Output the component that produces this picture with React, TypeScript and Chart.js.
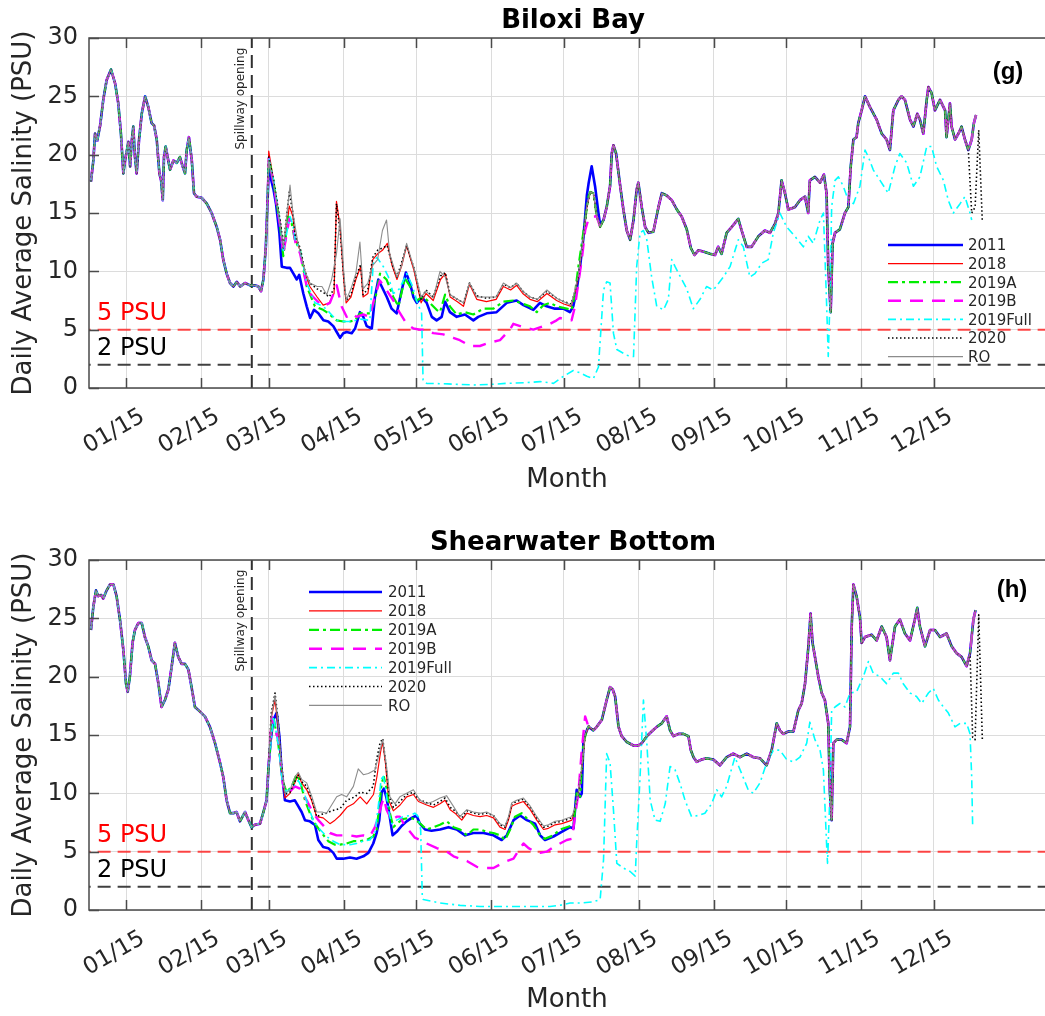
import React, { useEffect, useRef } from 'react';
import { Chart, registerables } from 'chart.js';
Chart.register(...registerables);

// ---------------- DATA ----------------
const tickDays = [15, 46, 74, 105, 135, 166, 196, 227, 258, 288, 319, 349];
const tickLabels = ['01/15', '02/15', '03/15', '04/15', '05/15', '06/15', '07/15', '08/15', '09/15', '10/15', '11/15', '12/15'];
const yTickValues = [0, 5, 10, 15, 20, 25, 30];
const seriesNames = ['2011', '2018', '2019A', '2019B', '2019Full', '2020', 'RO'];
const spillwayDay = 67;
const thresholdValues = [5, 2];
const thresholdLabels = ['5 PSU', '2 PSU'];

// ---- Biloxi Bay (g) ----
const topEarly = [[0.5,17.7],[1.5,19.5],[2.2,21.8],[3.1,21.2],[4.3,22.5],[5.6,24.7],[7,26.4],[8.8,27.3],[10.5,26.1],[11.8,24.4],[12.9,21.8],[13.9,18.4],[14.6,19.5],[15.3,20.3],[16,21.1],[16.7,19],[17.3,21],[18,22.4],[18.7,19.8],[19.4,18.4],[20.4,21.3],[21.5,23.5],[22.9,25],[24.2,24.1],[25.6,22.7],[26.6,22.5],[27.7,21.3],[28.8,18.4],[29.5,17.8],[30.2,16.1],[30.7,19.8],[31.4,20.7],[32.2,19.8],[33.2,18.7],[34.6,19.5],[36,19.3],[37.3,19.8],[38.4,19],[39.4,18.4],[40.1,20.4],[41,21.5],[42.2,19.5],[43.1,16.7],[44.2,16.4],[46.3,16.3],[48.4,15.8],[50.4,15],[52.5,13.8],[53.9,12.7],[55.2,11],[56.6,9.8],[58,9],[59.4,8.7],[60.8,9.1],[62.2,8.7],[64.2,9],[66.3,8.8],[68.3,8.8],[69.7,8.7],[70.8,8.3],[71.8,9.3],[72.8,12.1],[73.5,16]];
const top2011 = [[74,18.7],[76,17],[77,15.8],[78.4,13.3],[79.4,10.4],[81.4,10.3],[82.8,10.3],[84.2,9.8],[85.6,9.3],[86.6,9.7],[88.3,8.1],[89.7,7],[91.1,6],[92.7,6.7],[94.5,6.4],[96.6,5.8],[98.6,5.7],[100.7,5.3],[102.1,4.8],[103.5,4.3],[104.8,4.7],[106.2,4.8],[108.3,4.7],[109.7,5.1],[111.7,6.5],[113.1,6.1],[114.5,5.3],[116.6,5.1],[117.9,7.8],[119.3,9.3],[120.7,8.7],[122.8,7.8],[124.8,6.8],[126.9,6.4],[129,8.4],[130.7,9.9],[132.4,9],[133.8,7.8],[135.2,7.3],[137.2,7.8],[139.3,7.3],[141.4,6.1],[143.4,5.8],[145.5,6.1],[146.9,7.4],[148.9,6.5],[151.7,6.1],[155.1,6.3],[158.6,5.8],[160.6,6.1],[164.1,6.4],[168.2,6.5],[172.4,7.3],[176.5,7.5],[179.3,7.1],[183.4,6.7],[186.1,7.3],[188.9,7],[192.3,6.8],[195.8,6.8],[198.5,6.5],[199.9,7],[201.3,8.4],[202.7,10.4],[204,12.7],[204.8,14.7],[205.5,16.5],[206.2,17.5],[207.5,19],[208.9,17.3],[210.3,15],[211,14]];
const top2018 = [[74,20.3],[76,17.8],[77,16.1],[79,13.8],[80,11.8],[81,13],[82.5,15.6],[84,14.7],[85,12.7],[87,11.8],[89,9.8],[91,8.7],[94,7.8],[96.5,7.1],[99,7.3],[101,8.1],[102,16],[103.5,13.8],[105,9.3],[106,7.3],[108,7.8],[110,9.3],[112,10.4],[113,7.8],[115,8.1],[117,11],[119,11.5],[121,11.8],[123,12.4],[125,10.5],[127,9.3],[129,10.5],[131,12.2],[134,10.1],[137,7.3],[139,8.1],[142,7.5],[145,9.3],[147,9.8],[149,7.8],[152,7.4],[154.5,7],[157,8.9],[160,7.6],[164,7.4],[168,7.6],[171,8.7],[174,8.4],[176.5,8.8],[179,8.1],[182,7.6],[185,7.4],[189,8.1],[193,7.5],[196,7.2],[199,7],[200.5,8.1],[202,9.5],[204,12.7],[205.5,15.5]];
const top2019A = [[74,19.7],[75.9,17.8],[78.6,14.1],[80,11.3],[82.1,14.7],[83.5,14.1],[84.8,12.7],[86.9,11.8],[89.7,8.7],[93.1,7],[96.5,6.7],[98.6,6.4],[102.1,5.8],[104.8,5.7],[107.6,5.7],[109.6,5.8],[111.7,6.4],[115.8,6.4],[117.9,7.5],[120,9.8],[122.7,9.3],[125.5,7.8],[127.6,7],[130.3,9.4],[132.4,8.7],[135.1,7.5],[137.9,7.8],[140.6,7.3],[143.4,6.7],[144.8,6.5],[146.9,8],[148.9,7],[151.7,6.3],[155.1,6.5],[158.6,6.3],[162.7,6.8],[166.9,6.8],[171,7.4],[175.1,7.5],[177.9,7.3],[182,7],[184.8,6.5],[187.5,7.1],[190.3,7.3],[193,7],[197.2,6.8],[199.2,6.7],[200.6,8.1],[202,10.4],[203.4,12.4],[204.8,14.4],[206.2,16.4]];
const top2019B = [[74,19.7],[76,17.5],[78.6,14],[80,11.5],[82.5,14.5],[84,13.8],[85,12.5],[87,11.5],[89.7,8.7],[91,8.1],[93.8,7.5],[96.5,7],[99.3,7.3],[102.1,8.8],[104.1,7],[106.2,6.1],[108.3,6.4],[110.3,6.1],[113.1,6.3],[115.8,6.1],[118,8],[120,9.2],[122.7,8.4],[125.5,7.5],[128,6.5],[131,5.5],[133.8,5.1],[136.5,5],[139.3,5],[142,4.7],[146.2,4.6],[150.3,4.3],[153,4.1],[157.2,3.6],[161.3,3.6],[165.5,3.9],[169.6,4.1],[173.7,5],[175.1,5.5],[179.3,5.2],[183.4,5],[187.5,5.3],[190.3,5.5],[193,5.8],[194.4,6],[197.9,5.8],[199.2,5.8],[200.6,7],[202,9],[203.4,11],[204.8,13.5],[206.2,14.5],[208.2,14.7]];
const top2019Full = [[74,19.7],[76,17.8],[78.6,14.3],[80,11.8],[82.8,14.7],[84,14],[85,12.7],[87,11.8],[89.7,9],[93.1,7.3],[96.5,7],[99,6.5],[102.1,5.8],[105,5.7],[107.6,5.7],[110,5.8],[112,5.9],[115.8,5.8],[117.2,10.7],[118.7,11.2],[121.4,10.4],[123.5,9.5],[125.5,8.1],[128,8.5],[131,9.8],[133.5,8.7],[135.1,7.5],[137.2,6.4],[137.8,0.6],[139.3,0.4],[148,0.35],[158.6,0.26],[165,0.3],[172.4,0.4],[180,0.45],[186.2,0.55],[191.7,0.4],[195.8,1],[199.9,1.5],[202.7,1.3],[205.5,1],[208.2,0.8],[210.3,1.8],[212.4,8.4],[213.7,9.1],[215.1,9],[216.5,4.7],[217.9,3.3],[222,2.8],[224.8,2.7],[226.1,10.4],[227.5,13.3],[228.9,13.5],[230.3,12.7],[232.3,9.5],[234.4,7],[237.2,6.7],[239.2,7.6],[240.6,11],[242,10.4],[244,9.6],[246.8,8.5],[249.5,6.8],[252.3,7.6],[255,8.7],[257.8,8.4],[261.9,9.5],[264.7,10.4],[268.1,12.7],[270.2,12.1],[272.9,9.5],[275,9.8],[277.8,10.7],[280.5,11],[282.6,13.3],[285.3,15],[288.1,13.8],[291.5,13],[295,12.1],[297,13],[299.1,12.4],[301.9,14.4],[303.3,15],[304.5,8],[305.3,2.7],[306,7.5],[306.7,15.5],[308.1,17.8],[309.5,18.1],[311.5,17.3],[313.6,16.1],[315.7,15.8],[318.4,17.3],[320.5,20.4],[321.9,19.8],[323.9,18.7],[326.7,17.8],[330.1,16.7],[332.9,19],[334.9,20.1],[337.7,19.3],[340.5,17.3],[343.2,18.1],[346,20.7],[348,20.7],[350.1,19],[352.9,17.8],[354.9,16.1],[357,15],[359.8,15.8],[361.8,16.4],[363.9,15],[364.6,14.4]];
const top2020 = [[74,19.8],[76,17.8],[77,16.5],[79,14],[80,12],[81,14],[82.5,16.8],[84,15],[85,13],[87,12],[89,10],[91,9],[94,8.5],[96.5,8.2],[99,7.8],[101,8.5],[102,15.8],[103.5,13.5],[105,9.5],[106,7.5],[108,8],[110,9.5],[112,10.6],[113,8],[115,8.5],[117,11.2],[119,11.8],[121,12],[123,12.2],[125,10.6],[127,9.5],[129,10.8],[131,12.2],[134,10.3],[137,7.6],[139,8.4],[142,7.8],[145,9.6],[147,9.9],[149,8],[152,7.6],[154.5,7.3],[157,9],[160,7.9],[164,7.7],[168,7.8],[171,8.9],[174,8.6],[176.5,9],[179,8.3],[182,7.8],[185,7.6],[189,8.3],[193,7.7],[196,7.4],[199,7.2],[200.5,8.2],[202,9.6],[204,12.8],[205.5,15.5]];
const topRO = [[74,19.5],[76,17.5],[78,15],[80,12],[82.8,17.4],[84,15],[86,12.5],[89,10],[91,9],[94,8.7],[96,8.7],[98,8],[100,9.3],[102,11.5],[103.5,14.5],[105,10],[106,7.5],[108,8.5],[110,9.8],[111.7,12.5],[113,8.5],[115,9],[117,10.5],[119,11],[121,13.5],[122.7,14.4],[124,11.5],[127,9.5],[129,10.5],[131,12.4],[134,10.3],[137,7.8],[139,8.3],[142,7.7],[144.8,10],[147,9.5],[149,8],[152,7.6],[154.5,7.3],[157,9],[160,7.8],[164,7.8],[168,7.8],[171,9],[174,8.6],[176.5,9],[179,8.3],[182,7.8],[185,7.6],[189,8.4],[193,7.7],[196,7.4],[199,7.1],[200.5,8.3],[202,9.7],[204,12.8],[205.5,15.6]];
const topLate = [[206.9,16.8],[208.2,16.7],[209.6,14.7],[211,13.8],[212.4,14.4],[213.7,15.5],[215.1,17.3],[215.8,20.1],[216.5,20.8],[217.6,20.1],[219.3,17.3],[220.6,15.3],[222,13.5],[223.4,12.7],[224.8,14.4],[226.1,17],[226.8,17.6],[228.2,15.5],[229.6,13.8],[231,13.3],[233,13.4],[235.1,15.5],[236.5,16.7],[238.5,16.5],[240.6,16.1],[242.7,15.3],[244.7,14.7],[246.8,13.6],[248.5,12],[250,11.4],[251.6,11.8],[253.6,11.7],[256.4,11.5],[258.5,11.4],[259.8,12.1],[261.2,11.5],[263.3,13.3],[265.4,13.8],[268.1,14.5],[269.5,13.5],[271.6,12.1],[273.6,12.1],[276.4,13],[279.1,13.5],[281.2,13.3],[283.3,14.1],[284.7,15],[286,17.8],[287.4,16.7],[288.8,15.3],[291.5,15.5],[293.6,16.1],[295.7,16.4],[297,15],[297.7,17.8],[299.8,18.1],[301.9,17.6],[303.5,18.3],[304.6,16.7],[305.3,10.4],[306.3,6.5],[307.1,12.4],[308.1,13.3],[310.1,13.6],[312.2,15],[313.6,15.5],[314.6,19],[315.7,21.3],[317,21.5],[317.7,22.7],[319.1,23.8],[320.5,25],[322.5,24.1],[325.3,23],[327.4,21.8],[329.4,21.3],[330.8,20.4],[332.2,23.8],[334.3,24.7],[335.6,25],[337,24.7],[339.1,23],[340.5,22.4],[342.1,23.5],[343.2,23],[344.6,21.8],[346,24.7],[346.7,25.8],[348,25.3],[349.4,23.8],[351.5,24.7],[353.6,23.8],[354.2,21.5],[355.6,24.4],[356.3,22.4],[357.7,21.3],[359.1,21.8],[360.4,22.4],[361.8,21.3],[363.2,20.4],[364.6,21.3],[365.5,22.7],[366.4,23.4]];
const top2020Tail = [[364.6,15],[366,15.5],[367.5,22.1],[369,14.2]];

// ---- Shearwater Bottom (h) ----
const botEarly = [[0.5,24],[1.5,26],[2.6,27.4],[3.5,26.9],[4.7,27],[5.6,26.7],[7,27.4],[8.4,27.9],[9.8,27.9],[11.1,26.9],[12.5,24.9],[13.9,22.3],[15,19.4],[15.7,18.7],[16.6,20],[17.7,22.9],[18.7,24],[20.1,24.6],[21.5,24.6],[22.8,23.4],[24.2,22.6],[25.6,21.4],[27,21.1],[28.4,19.4],[29.7,17.4],[31.1,18],[32.5,18.9],[33.9,20.9],[35.2,22.9],[36.6,21.7],[38,21.1],[39.4,21.1],[40.8,20.6],[42.1,19.1],[43.5,17.4],[45.6,17],[47.6,16.6],[49.7,15.7],[51.8,14.3],[53.9,12.6],[55.2,11.4],[56.6,9.4],[58,8.3],[59.4,8.3],[60.7,8.4],[62.1,7.6],[64.2,8.4],[65.6,7.7],[66.9,7.1],[68.3,7.3],[70.4,7.4],[71.8,8.4],[73.1,9.4],[74,12.5]];
const bot2011 = [[74.8,14.5],[75.9,16.3],[77.3,16.9],[78.4,14.9],[79.3,12],[80.7,9.4],[82.8,9.3],[84.8,9.4],[86.2,8.9],[87.6,8.4],[89,7.7],[91,7.6],[93.1,7.3],[94.5,6],[96.5,5.4],[98.6,5.3],[100.7,4.9],[102.1,4.4],[104.8,4.4],[107.6,4.5],[110.3,4.4],[113.1,4.6],[115.2,4.9],[117.2,5.7],[118.6,6.6],[119.7,7.7],[120.7,10.1],[121.6,10.4],[122.7,9.6],[123.8,8.3],[125.2,6.4],[126.9,6.7],[128.9,7.2],[131,7.6],[133.1,7.9],[135.1,8.1],[136.5,7.4],[138.6,6.9],[141.3,6.8],[144.8,6.9],[148.3,7.1],[151.7,6.9],[155.2,6.4],[158.6,6.6],[162.8,6.6],[166.9,6.4],[170.3,6],[172.4,6.4],[175.2,7.7],[177.9,8.1],[180.7,7.7],[184.1,7.4],[186.2,6.4],[188.2,6],[191.7,6.3],[195.1,6.7],[198.6,7.1],[200,7],[201.3,10.3],[202.7,9.7],[203.4,10],[204.1,14.6],[205.5,15.4]];
const bot2018 = [[75,16.5],[76.6,18],[77.9,15.7],[79.3,12],[80.7,9.6],[82.8,10],[84.8,10.9],[86.2,11.7],[87.6,10.9],[89.7,10.3],[91.7,9.4],[93.8,8],[96.5,7.9],[99.3,7.4],[101.4,7.7],[103.5,8.1],[106.3,8.8],[109,9.1],[111.8,9.7],[114.5,9.1],[117.3,9.9],[118.7,11.4],[120.2,13.5],[121.1,14.4],[122.3,12.5],[123.6,9.4],[125.5,8.5],[128.3,9],[131,9.7],[133.8,9.9],[135.9,9.3],[139.3,9],[142.1,8.8],[144.8,9.1],[146.9,9.4],[149,8.6],[151,8.3],[153.8,7.7],[155.9,8.3],[158.6,8.1],[161.4,8],[164.1,8.1],[166.9,7.9],[169.6,7.1],[171.7,6.9],[173.1,7.7],[174.5,8.9],[176.5,9.1],[179.3,9.3],[182.1,8.6],[184.8,7.7],[187.6,6.9],[189.6,7],[192.4,7.3],[195.1,7.4],[197.9,7.6],[199.3,7.7],[200.7,8.6],[202,10],[203.4,12],[204.8,14.9],[206.2,15.7]];
const bot2019A = [[75.2,15.5],[75.9,16.6],[77.9,14.3],[79.7,11.1],[81.4,10.1],[83.5,10.6],[85.5,11.6],[86.9,11.1],[89,9.4],[91,8.3],[93.1,7.4],[95.9,6.6],[98.6,5.9],[101.4,5.6],[103.5,5.6],[106.2,5.7],[109,5.9],[111.7,5.9],[114.5,6],[117.2,6.3],[118.6,6.9],[119.7,8.9],[120.7,10.9],[121.6,11.4],[122.7,10.4],[124.1,8.3],[125.5,7.1],[127.6,7.5],[129.6,7.8],[132.4,7.9],[134.4,7.8],[136.6,7.4],[139.3,6.9],[142.1,7.1],[144.8,7.3],[147.6,7.6],[150.4,7.1],[153.1,6.9],[155.9,6.4],[158.6,6.9],[161.4,6.9],[164.1,6.7],[166.9,6.6],[169.6,6.4],[171.7,6],[173.8,6.9],[175.8,8],[178.6,8.3],[181.4,7.7],[183.4,7.3],[186.2,6.4],[188.2,6.1],[191.7,6.4],[194.4,6.9],[197.2,7.1],[200,7.3],[201.3,10],[202.7,9.7],[204.1,14.3],[205.5,15.4]];
const bot2019B = [[75.2,16.6],[77.9,14.6],[80,10.6],[82.1,10],[84.8,10.6],[86.9,10.4],[89.7,9.4],[92.4,8.3],[94.5,7.7],[97.2,7.1],[99.3,6.6],[102.1,6.4],[104.8,6.4],[107.6,6.4],[110.3,6.3],[113.1,6.4],[115.8,6.3],[117.9,7.1],[119.3,8],[120.7,9.1],[121.6,9.6],[122.7,8.6],[124.8,7.7],[126.9,8],[128.2,8],[130.3,7.2],[132.4,6.7],[134.4,6.2],[136.6,6],[139.3,5.7],[143.5,5.3],[147.6,5],[150.4,4.6],[153.1,4.4],[155.9,4.2],[160,3.7],[162.8,3.6],[166.9,3.6],[169.6,3.9],[172.4,4.2],[175.2,4.4],[177.9,5.3],[179.3,5.7],[181.4,5.3],[184.1,5],[186.2,4.9],[188.9,5],[191.7,5.4],[194.4,5.7],[197.2,6],[199.3,6.1],[200.6,8],[202,10],[203.4,13.7],[204.8,16.6],[206.2,15.7]];
const bot2019Full = [[75.9,16.6],[77.9,14.3],[79.7,10.9],[81.4,10.1],[84.1,10.6],[86.2,11.1],[88.3,10.3],[90.3,8.9],[92.4,7.7],[95.2,6.9],[97.9,6.3],[100.7,5.9],[103.5,5.6],[107.6,5.6],[110.3,5.7],[113.1,5.9],[115.8,6],[117.9,6.6],[119.3,8.9],[120.3,10.9],[121.1,11.6],[122.2,10.6],[123.4,8.6],[124.8,7.4],[126.9,7.7],[129.6,8],[132.4,8.1],[134.4,8.3],[135.8,8],[136.8,6.9],[137.5,1],[137.9,0.9],[144.8,0.6],[153.1,0.4],[161.4,0.3],[172.4,0.3],[183.4,0.3],[190.3,0.3],[194.4,0.4],[198.6,0.6],[202.7,0.6],[208.2,0.7],[211,0.9],[212.4,4.3],[213.7,13.4],[215.1,12.6],[216.5,8.6],[217.9,4],[220.6,3.6],[223.4,3.3],[225.5,2.9],[226.1,5.7],[227.5,11.4],[228.9,18],[230.3,14.3],[231.7,9.4],[233.7,7.7],[235.8,7.6],[237.9,9.1],[239.9,12.3],[242,12],[244.1,10.8],[246.1,9.4],[248.8,8],[251.6,8.1],[254.3,8.3],[257.1,9.1],[259.2,10.3],[261.2,9.7],[263.3,10.6],[266.7,13.1],[269.5,11.7],[272.2,10.3],[274.3,10],[277.1,10.9],[279.8,12.6],[282.6,13.7],[285.3,13.7],[288.1,12.9],[290.9,12.7],[293.6,13.1],[296.4,14.3],[297.7,16.1],[299.8,14.6],[301.9,13.7],[303.3,12],[304.6,5.7],[305,4],[306,10],[306.7,17.1],[308.1,17.4],[310.1,17.7],[312.2,17.4],[314.3,18.6],[317,18.7],[319.8,20],[321.9,21.3],[323.9,20.3],[326.7,20],[329.4,19.4],[332.2,20.3],[334.3,20.3],[336.3,19.4],[339.1,18.6],[341.8,18.3],[343.9,17.7],[346.7,18.6],[348.7,19],[350.8,18],[352.9,17.4],[354.9,16.9],[357.7,15.7],[359.8,16],[362.5,16],[363.9,15.1],[364.6,11.4],[365,7.1]];
const bot2020 = [[75,16.8],[76.6,18.6],[77.9,16.2],[79.3,12.5],[80.7,9.9],[82.8,10.1],[84.8,11],[86.2,11.6],[87.6,11],[89.7,10.6],[91.7,9.6],[93.8,8],[96,8.2],[97.9,8.3],[100,8.5],[103.5,8.7],[106.2,9.4],[109.6,9.7],[111.7,10.1],[114.5,10],[117.2,10.6],[118.6,12.9],[120,14.3],[121.1,14.7],[122.4,12.6],[123.8,9.7],[125.5,8.8],[128.3,9.3],[131,9.9],[133.8,10.1],[135.9,9.5],[139.3,9.2],[142.1,9],[144.8,9.3],[146.9,9.6],[149,8.8],[151,8.5],[153.8,7.9],[155.9,8.5],[158.6,8.3],[161.4,8.2],[164.1,8.3],[166.9,8.1],[169.6,7.3],[171.7,7.1],[173.1,7.9],[174.5,9.1],[176.5,9.3],[179.3,9.5],[182.1,8.8],[184.8,7.9],[187.6,7.1],[189.6,7.2],[192.4,7.5],[195.1,7.6],[197.9,7.8],[199.3,7.9],[200.7,8.8],[202,10.1],[203.4,12.1],[204.8,15],[206.2,15.8]];
const botRO = [[75,16.5],[76.6,18.4],[77.9,16],[79.3,12.3],[80.7,10],[82.8,10.3],[84.8,11.4],[86.2,11.8],[87.6,11.2],[89.7,10.9],[91.7,9.8],[93.8,8.4],[96,8.4],[97.9,8.3],[100,9],[102.1,9.7],[104.1,9.9],[106.2,9.7],[109,10.6],[111,12.1],[113.1,11.6],[115.2,11.7],[117.9,12],[119.3,13.1],[121.1,14.6],[122.7,12.3],[124.1,9.7],[126.2,9.1],[128.2,9.7],[131,10],[133.8,10.3],[136.5,9.4],[139.3,9.1],[142,9.3],[144.8,9.6],[147.5,9.8],[150.3,8.9],[153,8],[155.9,8.6],[158.6,8.4],[161.4,8.3],[164.1,8.4],[166.9,8.1],[169.6,7.4],[171.7,7.2],[173.1,8],[174.5,9.2],[176.5,9.4],[179.3,9.6],[182.1,8.9],[184.8,8],[187.6,7.2],[189.6,7.3],[192.4,7.6],[195.1,7.7],[197.9,7.9],[199.3,8],[200.7,8.8],[202,10.2],[203.4,12.2],[204.8,15],[206.2,15.8]];
const botLate = [[206.2,15.7],[208.2,15.4],[209.6,15.7],[211.7,16.3],[213.7,18],[215.1,19.1],[216.2,18.9],[217.2,18.3],[218.6,15.7],[219.9,14.9],[222,14.4],[224.8,14.1],[226.8,14.1],[228.2,14.3],[230.3,14.9],[232.3,15.3],[234.4,15.7],[236.5,16],[238.5,16.6],[239.9,15.4],[241.3,14.9],[243.4,15.1],[245.4,15.1],[247.5,14.9],[248.5,13.7],[249.6,13.1],[250.9,12.7],[253,12.9],[255,13],[257.8,12.9],[260.5,12.4],[263.3,13.1],[266,13.4],[268.8,13.1],[271.6,13.4],[274.3,13.1],[277.1,13],[279.8,12.4],[281.9,13.7],[284,16],[285.3,15.4],[286.7,15.1],[288.8,15.3],[290.9,15.3],[292.9,17.1],[294.3,17.7],[295.7,19.4],[297.1,22.6],[298,25.4],[298.8,22.9],[299.8,21.7],[301.2,20],[302.6,18.6],[303.9,18],[305.3,16],[306,10],[306.7,7.7],[307.4,14.3],[308.8,14.6],[310.8,14.6],[312.9,14.3],[314.3,15.7],[315,24.3],[315.7,27.9],[317,26.9],[318.4,25.1],[319.1,22.9],[320.5,23.4],[323.2,23.6],[325.3,23.1],[327.4,24.3],[329.4,23.4],[330.8,21.4],[332.9,24.3],[334.9,24.9],[337,23.7],[339.1,23.1],[341.1,24.9],[342.1,25.9],[343.2,24.3],[345.3,22.6],[347.4,24],[349.4,24],[351.5,23.4],[354.2,23.7],[356.3,22.6],[358.4,22],[360.4,21.7],[362.5,20.9],[363.9,22],[365.3,24.9],[366.2,25.7]];
const bot2020Tail = [[365,14.8],[366,14.6],[367.5,25.3],[369,14.6]];

// ---------------- STYLES ----------------
const seriesColors = ['#0000ff', '#ff0000', '#00ee00', '#ff00ff', '#00ffff', '#000000', '#8c8c8c'];
const seriesWidths = [2.6, 1.2, 2.2, 2.4, 1.6, 1.6, 1.1];
const seriesDashes = [[], [], [10, 4, 3, 4], [13, 9], [8, 4, 2, 4], [1.5, 2.5], []];
const seriesOrder = [6, 5, 4, 3, 2, 1, 0];
const FONT = '"DejaVu Sans", sans-serif';
const TEXT = '#262626';

function joinSeries(early, mid, late) {
  const last = mid[mid.length - 1][0];
  return [...early, ...mid, ...late.filter((p) => p[0] > last)];
}
function join2020(early, mid, late, tail) {
  const last = mid[mid.length - 1][0];
  const first = tail[0][0];
  return [...early, ...mid, ...late.filter((p) => p[0] > last && p[0] < first - 1), ...tail];
}

const topSeries = [
  joinSeries(topEarly, top2011, topLate),
  joinSeries(topEarly, top2018, topLate),
  joinSeries(topEarly, top2019A, topLate),
  joinSeries(topEarly, top2019B, topLate),
  [...topEarly, ...top2019Full],
  join2020(topEarly, top2020, topLate, top2020Tail),
  joinSeries(topEarly, topRO, topLate),
];
const botSeries = [
  joinSeries(botEarly, bot2011, botLate),
  joinSeries(botEarly, bot2018, botLate),
  joinSeries(botEarly, bot2019A, botLate),
  joinSeries(botEarly, bot2019B, botLate),
  [...botEarly, ...bot2019Full],
  join2020(botEarly, bot2020, botLate, bot2020Tail),
  joinSeries(botEarly, botRO, botLate),
];

const panels = [
  {
    title: 'Biloxi Bay', tag: '(g)', series: topSeries,
    canvasH: 508, plotTop: 38, plotBottom: 388, titleBaseline: 28, tagX: 1008, tagY: 72, monthPad: 12.4,
    legendX0: 888, legendX1: 963, legendTextX: 968, legendY0: 245, legendDy: 18.6,
  },
  {
    title: 'Shearwater Bottom', tag: '(h)', series: botSeries,
    canvasH: 508, plotTop: 52, plotBottom: 402, titleBaseline: 42, tagX: 1012, tagY: 82, monthPad: 0.4,
    legendX0: 309, legendX1: 382, legendTextX: 388, legendY0: 84, legendDy: 18.9,
  },
];

function makeDecor(cfg) {
  return {
    id: 'decor',
    afterDraw(chart) {
      const { ctx, chartArea: a, scales } = chart;
      const x = scales.x, y = scales.y;
      ctx.save();
      ctx.strokeStyle = '#4a4a4a';
      ctx.lineWidth = 1.5;
      ctx.setLineDash([]);
      ctx.beginPath();
      ctx.moveTo(a.right, a.top); ctx.lineTo(a.left, a.top); ctx.lineTo(a.left, a.bottom); ctx.lineTo(a.right, a.bottom);
      ctx.stroke();
      ctx.beginPath();
      for (const d of tickDays) {
        const px = Math.round(x.getPixelForValue(d)) + 0.5;
        ctx.moveTo(px, a.bottom); ctx.lineTo(px, a.bottom - 10);
        ctx.moveTo(px, a.top); ctx.lineTo(px, a.top + 10);
      }
      for (const v of yTickValues) {
        const py = Math.round(y.getPixelForValue(v)) + 0.5;
        ctx.moveTo(a.left, py); ctx.lineTo(a.left + 10, py);
      }
      ctx.stroke();

      ctx.fillStyle = '#000';
      ctx.font = 'bold 26px ' + FONT;
      ctx.textAlign = 'center';
      ctx.textBaseline = 'alphabetic';
      ctx.fillText(cfg.title, 573, cfg.titleBaseline);

      ctx.font = 'bold 24px "Liberation Sans", Arial, sans-serif';
      ctx.textBaseline = 'middle';
      ctx.fillText(cfg.tag, cfg.tagX, cfg.tagY);

      ctx.font = '24px ' + FONT;
      ctx.textAlign = 'left';
      ctx.textBaseline = 'alphabetic';
      ctx.fillStyle = '#ff0000';
      ctx.fillText(thresholdLabels[0], x.getPixelForValue(3), y.getPixelForValue(5.8));
      ctx.fillStyle = '#000';
      ctx.fillText(thresholdLabels[1], x.getPixelForValue(3), y.getPixelForValue(2.85));

      ctx.save();
      ctx.translate(x.getPixelForValue(62.5), y.getPixelForValue(24.8));
      ctx.rotate(-Math.PI / 2);
      ctx.font = '12px ' + FONT;
      ctx.fillStyle = TEXT;
      ctx.textAlign = 'center';
      ctx.textBaseline = 'middle';
      ctx.fillText('Spillway opening', 0, 0);
      ctx.restore();

      seriesNames.forEach((name, i) => {
        const ly = cfg.legendY0 + i * cfg.legendDy;
        ctx.beginPath();
        ctx.strokeStyle = seriesColors[i];
        ctx.lineWidth = seriesWidths[i];
        ctx.setLineDash(seriesDashes[i]);
        ctx.moveTo(cfg.legendX0, ly);
        ctx.lineTo(cfg.legendX1, ly);
        ctx.stroke();
        ctx.setLineDash([]);
        ctx.fillStyle = TEXT;
        ctx.font = '15px ' + FONT;
        ctx.textAlign = 'left';
        ctx.textBaseline = 'middle';
        ctx.fillText(name, cfg.legendTextX, ly + 1.5);
      });
      ctx.restore();
    },
  };
}

function Panel({ cfg }) {
  const ref = useRef(null);
  useEffect(() => {
    const datasets = cfg.series.map((pts, i) => ({
      label: seriesNames[i],
      data: pts.map((p) => ({ x: p[0], y: p[1] })),
      borderColor: seriesColors[i],
      borderWidth: seriesWidths[i],
      borderDash: seriesDashes[i],
      borderJoinStyle: 'round',
      pointRadius: 0,
      tension: 0,
      fill: false,
      order: seriesOrder[i],
    }));
    datasets.push({
      label: 'thr5', data: [{ x: -5, y: thresholdValues[0] }, { x: 400, y: thresholdValues[0] }],
      borderColor: 'rgba(255,40,40,0.85)', borderWidth: 2, borderDash: [13, 7], pointRadius: 0, order: 8,
    });
    datasets.push({
      label: 'thr2', data: [{ x: -5, y: thresholdValues[1] }, { x: 400, y: thresholdValues[1] }],
      borderColor: '#404040', borderWidth: 2, borderDash: [13, 7], pointRadius: 0, order: 9,
    });
    datasets.push({
      label: 'spill', data: [{ x: spillwayDay, y: 0 }, { x: spillwayDay, y: 30 }],
      borderColor: '#303030', borderWidth: 2, borderDash: [13, 7], pointRadius: 0, order: 10,
    });

    const chart = new Chart(ref.current, {
      type: 'line',
      data: { datasets },
      options: {
        responsive: false,
        animation: false,
        events: [],
        layout: { padding: { top: cfg.plotTop, left: 0, right: 0, bottom: 0 } },
        plugins: { legend: { display: false }, tooltip: { enabled: false }, title: { display: false } },
        scales: {
          x: {
            type: 'linear',
            min: -0.3,
            max: 394.9,
            afterBuildTicks: (s) => { s.ticks = tickDays.map((v) => ({ value: v })); },
            afterFit: (s) => { s.height = cfg.canvasH - cfg.plotBottom; },
            grid: { color: '#dcdcdc', lineWidth: 1, drawTicks: false },
            border: { display: false },
            ticks: {
              autoSkip: false,
              minRotation: 30,
              maxRotation: 30,
              padding: 15,
              labelOffset: 17,
              color: TEXT,
              font: { family: FONT, size: 23 },
              callback: (v) => { const k = tickDays.indexOf(v); return k >= 0 ? tickLabels[k] : ''; },
            },
            title: {
              display: true, text: 'Month', color: TEXT,
              font: { family: FONT, size: 26 }, padding: { top: 0, bottom: cfg.monthPad },
            },
          },
          y: {
            min: 0,
            max: 30,
            afterBuildTicks: (s) => { s.ticks = yTickValues.map((v) => ({ value: v })); },
            afterFit: (s) => { s.width = 89; },
            grid: { color: '#dcdcdc', lineWidth: 1, drawTicks: false },
            border: { display: false },
            ticks: { padding: 11, color: TEXT, font: { family: FONT, size: 24 } },
            title: {
              display: true, text: 'Daily Average Salinity (PSU)', color: TEXT,
              font: { family: FONT, size: 26 }, padding: { top: 8.4, bottom: 0 },
            },
          },
        },
      },
      plugins: [makeDecor(cfg)],
    });
    return () => chart.destroy();
  }, []);
  return <canvas ref={ref} width={1045} height={cfg.canvasH} style={{ display: 'block', width: 1045, height: cfg.canvasH }} />;
}

export default function App() {
  return (
    <div style={{ position: 'absolute', left: 0, top: 0, width: 1045, height: 1016, background: '#fff' }}>
      {panels.map((p) => (
        <Panel key={p.title} cfg={p} />
      ))}
    </div>
  );
}
